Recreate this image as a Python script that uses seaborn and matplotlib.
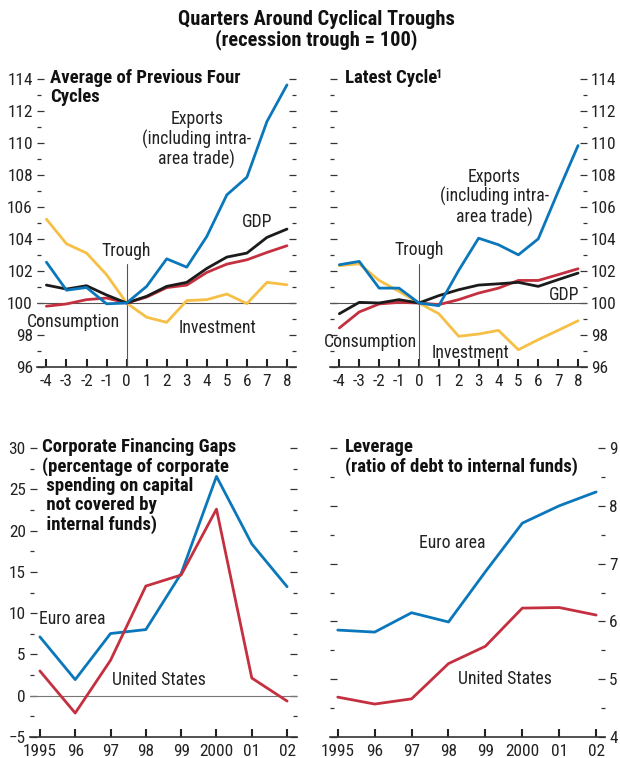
import numpy as np
import pandas as pd
import matplotlib
matplotlib.use("Agg")
import matplotlib.pyplot as plt
from matplotlib import font_manager as fm
import seaborn as sns

# ---------------- data ----------------
quarters = [-4, -3, -2, -1, 0, 1, 2, 3, 4, 5, 6, 7, 8]

prev_exports = [102.55, 100.8, 100.97, 99.95, 100.0, 101.04, 102.76, 102.24, 104.16, 106.76, 107.86, 111.34, 113.63]
prev_gdp = [101.12, 100.87, 101.08, 100.5, 100.0, 100.42, 101.04, 101.29, 102.16, 102.87, 103.12, 104.1, 104.62]
prev_consumption = [99.8, 99.94, 100.21, 100.31, 100.0, 100.37, 100.96, 101.12, 101.91, 102.43, 102.7, 103.16, 103.58]
prev_investment = [105.24, 103.7, 103.12, 101.77, 100.0, 99.11, 98.79, 100.15, 100.21, 100.56, 99.96, 101.29, 101.14]

last_exports = [102.39, 102.6, 100.93, 100.93, 100.0, 99.83, 102.04, 104.05, 103.64, 103.01, 104.01, 106.97, 109.84]
last_gdp = [99.33, 100.04, 100.0, 100.21, 100.0, 100.46, 100.83, 101.12, 101.2, 101.29, 101.04, 101.46, 101.87]
last_consumption = [98.44, 99.44, 99.94, 100.04, 100.0, 99.9, 100.21, 100.62, 100.93, 101.41, 101.41, 101.77, 102.14]
last_investment = [102.33, 102.45, 101.41, 100.73, 100.0, 99.33, 97.92, 98.06, 98.29, 97.08, 97.71, 98.29, 98.89]

years = [1995, 1996, 1997, 1998, 1999, 2000, 2001, 2002]
year_labels = ["1995", "96", "97", "98", "99", "2000", "01", "02"]
gap_euro = [7.13, 1.95, 7.53, 8.01, 14.8, 26.56, 18.38, 13.2]
gap_us = [3.0, -2.1, 4.29, 13.28, 14.62, 22.6, 2.14, -0.65]
lev_euro = [5.85, 5.815, 6.15, 5.99, 6.86, 7.7, 8.0, 8.24]
lev_us = [4.69, 4.57, 4.66, 5.27, 5.57, 6.23, 6.24, 6.11]

# ---------------- fonts ----------------
sns.set_style("white")

pref = ["liberation sans narrow", "roboto condensed", "dejavu sans condensed",
        "open sans condensed", "noto sans condensed", "arial narrow"]
cands = []
for f in fm.fontManager.ttflist:
    n = f.name.lower()
    fn = f.fname.lower()
    st = str(f.stretch).lower()
    if ("narrow" in n or "condensed" in n or "condensed" in st or "narrow" in fn
            or "condensed" in fn):
        if "mono" in n or ("serif" in n and "sans" not in n):
            continue
        cands.append(f)

chosen_family = None
use_stretch = False
for p in pref:
    for f in cands:
        if f.name.lower() == p:
            chosen_family = f.name
            break
    if chosen_family:
        break
if chosen_family is None:
    for f in cands:
        if "condensed" in str(f.stretch).lower() and "sans" in f.name.lower():
            chosen_family = f.name
            use_stretch = True
            break
if chosen_family is None:
    chosen_family = "Liberation Sans"

plt.rcParams["font.family"] = [chosen_family, "Liberation Sans", "DejaVu Sans"]
if use_stretch:
    plt.rcParams["font.stretch"] = "condensed"

BLUE = "#0b77bb"
RED = "#c4303f"
YELLOW = "#f6bf45"
BLACK = "#1b1b1b"
TXT = "#222222"
HEAD = "#111111"
LW = 2.0

fig = plt.figure(figsize=(6.2, 7.58), dpi=100)
W, H = 620.0, 758.0
renderer = fig.canvas.get_renderer()


def fit_size(s, target_px, weight="normal", base=12.0, cap=None):
    t = fig.text(0.5, 0.5, s, fontsize=base, fontweight=weight)
    w = t.get_window_extent(renderer).width
    t.remove()
    size = base * target_px / w
    if cap is not None:
        size = min(size, cap)
    return size


FS_TXT = fit_size("Consumption", 93, cap=14)
FS_TICK = fit_size("1995", 34, cap=14.5)
FS_HEAD = fit_size("Corporate Financing Gaps", 195, "bold", cap=14)
FS_TITLE = fit_size("Quarters Around Cyclical Troughs", 277, "bold", cap=15.5)


def add_axes(x0, y0, x1, y1):
    return fig.add_axes([x0 / W, 1 - y1 / H, (x1 - x0) / W, (y1 - y0) / H])


ax_tl = add_axes(37, 79, 296, 367)
ax_tr = add_axes(330, 79, 587, 367)
ax_bl = add_axes(30, 448, 297, 737)
ax_br = add_axes(330, 448, 605, 737)


def style_axes(ax, label_side):
    for s in ["top", "left", "right"]:
        ax.spines[s].set_visible(False)
    ax.spines["bottom"].set_color("#333333")
    ax.spines["bottom"].set_linewidth(1.2)
    ax.tick_params(axis="x", direction="in", length=6, width=1.5, color="#222222",
                   labelsize=FS_TICK, labelcolor=TXT, pad=5, bottom=True, top=False)
    ax.tick_params(axis="y", which="major", direction="in", length=5, width=0.9,
                   color="#333333", left=True, right=True, labelsize=FS_TICK, labelcolor=TXT, pad=3,
                   labelleft=(label_side == "left"), labelright=(label_side == "right"))
    ax.tick_params(axis="y", which="minor", direction="in", length=3, width=0.9,
                   color="#333333", left=True, right=True)
    ax.set_xlabel("")
    ax.set_ylabel("")
    ax.grid(False)
    ax.set_facecolor("none")


def draw_cycle(ax, exports, gdp, cons, inv, label_side):
    ax.axhline(100, color="#555555", lw=0.8, zorder=1)
    ax.plot([0, 0], [96, 102.44], color="#555555", lw=0.8, zorder=1)
    for vals, col in [(inv, YELLOW), (cons, RED), (gdp, BLACK), (exports, BLUE)]:
        df = pd.DataFrame({"q": quarters, "v": vals})
        sns.lineplot(data=df, x="q", y="v", ax=ax, color=col, lw=LW, zorder=3)
    ax.set_xlim(-4.47, 8.45)
    ax.set_ylim(96, 114)
    ax.set_xticks(quarters)
    ax.set_xticklabels([str(q) for q in quarters])
    ax.set_yticks(np.arange(96, 115, 2))
    ax.set_yticks(np.arange(97, 114, 2), minor=True)
    style_axes(ax, label_side)


draw_cycle(ax_tl, prev_exports, prev_gdp, prev_consumption, prev_investment, "left")
draw_cycle(ax_tr, last_exports, last_gdp, last_consumption, last_investment, "right")

fs = FS_TXT
# top-left annotations
ax_tl.text(3.5, 110.2, "Exports\n(including intra-\narea trade)", ha="center", va="center",
           fontsize=fs, color=TXT, linespacing=1.1)
ax_tl.text(6.53, 105.08, "GDP", ha="center", va="center", fontsize=fs, color=TXT)
ax_tl.text(0.0, 103.27, "Trough", ha="center", va="center", fontsize=fs, color=TXT)
ax_tl.text(-2.64, 98.83, "Consumption", ha="center", va="center", fontsize=fs, color=TXT, clip_on=False)
ax_tl.text(4.52, 98.43, "Investment", ha="center", va="center", fontsize=fs, color=TXT)
ax_tl.text(0.05, 1.035, "Average of Previous Four\nCycles", transform=ax_tl.transAxes,
           ha="left", va="top", fontsize=FS_HEAD, fontweight="bold", color=HEAD, linespacing=1.05)

# top-right annotations
ax_tr.text(3.78, 106.6, "Exports\n(including intra-\narea trade)", ha="center", va="center",
           fontsize=fs, color=TXT, linespacing=1.1)
ax_tr.text(7.28, 100.5, "GDP", ha="center", va="center", fontsize=fs, color=TXT)
ax_tr.text(0.03, 103.3, "Trough", ha="center", va="center", fontsize=fs, color=TXT)
ax_tr.text(-2.43, 97.58, "Consumption", ha="center", va="center", fontsize=fs, color=TXT, clip_on=False)
ax_tr.text(2.57, 96.9, "Investment", ha="center", va="center", fontsize=fs, color=TXT)
t_latest = ax_tr.text(0.058, 1.035, "Latest Cycle", transform=ax_tr.transAxes,
                      ha="left", va="top", fontsize=FS_HEAD, fontweight="bold", color=HEAD)
ax_tr.annotate("1", xy=(1.0, 1.0), xycoords=t_latest, xytext=(-1.0, 0.5), textcoords="offset points",
               ha="left", va="top", fontsize=FS_HEAD * 0.65, fontweight="bold", color=HEAD)

# bottom-left: financing gaps
ax_bl.axhline(0, color="#777777", lw=0.8, zorder=1)
for vals, col in [(gap_euro, BLUE), (gap_us, RED)]:
    df = pd.DataFrame({"year": years, "v": vals})
    sns.lineplot(data=df, x="year", y="v", ax=ax_bl, color=col, lw=LW, zorder=3)
ax_bl.set_xlim(1994.72, 2002.28)
ax_bl.set_ylim(-5, 30)
ax_bl.set_xticks(years)
ax_bl.set_xticklabels(year_labels)
ax_bl.set_yticks(np.arange(-5, 31, 5))
ax_bl.set_yticks(np.arange(-2.5, 30, 5), minor=True)
style_axes(ax_bl, "left")
ax_bl.text(1995.93, 9.29, "Euro area", ha="center", va="center", fontsize=fs, color=TXT)
ax_bl.text(1998.38, 1.9, "United States", ha="center", va="center", fontsize=fs, color=TXT)
ax_bl.text(0.045, 1.035,
           "Corporate Financing Gaps\n(percentage of corporate\n spending on capital\n not covered by\n internal funds)",
           transform=ax_bl.transAxes, ha="left", va="top", fontsize=FS_HEAD, fontweight="bold",
           color=HEAD, linespacing=1.08)

# bottom-right: leverage
for vals, col in [(lev_euro, BLUE), (lev_us, RED)]:
    df = pd.DataFrame({"year": years, "v": vals})
    sns.lineplot(data=df, x="year", y="v", ax=ax_br, color=col, lw=LW, zorder=3)
ax_br.set_xlim(1994.79, 2002.24)
ax_br.set_ylim(4, 9)
ax_br.set_xticks(years)
ax_br.set_xticklabels(year_labels)
ax_br.set_yticks(np.arange(4, 9.1, 1))
ax_br.set_yticks(np.arange(4.5, 9, 1), minor=True)
style_axes(ax_br, "right")
ax_br.text(1998.09, 7.35, "Euro area", ha="center", va="center", fontsize=fs, color=TXT)
ax_br.text(1999.53, 5.0, "United States", ha="center", va="center", fontsize=fs, color=TXT)
ax_br.text(0.055, 1.035, "Leverage\n(ratio of debt to internal funds)",
           transform=ax_br.transAxes, ha="left", va="top", fontsize=FS_HEAD, fontweight="bold",
           color=HEAD, linespacing=1.08)

# main title
fig.text(316 / W, 1 - 10 / H, "Quarters Around Cyclical Troughs\n(recession trough = 100)",
         ha="center", va="top", fontsize=FS_TITLE, fontweight="bold", color=HEAD, linespacing=1.0)

fig.savefig("out.png", dpi=100)
